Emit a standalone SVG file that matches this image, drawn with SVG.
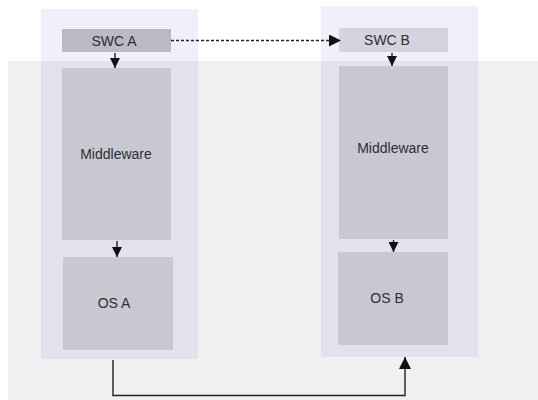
<svg xmlns="http://www.w3.org/2000/svg" width="538" height="400" viewBox="0 0 538 400">
<defs>
<style>
.lbl{font-family:"Liberation Sans",Arial,sans-serif;font-size:14px;fill:#2e2e2e;text-anchor:middle;dominant-baseline:central}
.box{fill:#c8c8d2}
.pu{fill:#f0f0fb}
.pl{fill:#e2e2ee}
.ln{stroke:#222;stroke-width:1.4;fill:none}
</style>
<marker id="ah" viewBox="0 0 10 10" refX="10" refY="5" markerWidth="10" markerHeight="10" markerUnits="userSpaceOnUse" orient="auto">
<path d="M0,0 L10,5 L0,10 Z" fill="#111"/>
</marker>
<marker id="ahb" viewBox="0 0 10 10" refX="10" refY="5" markerWidth="12" markerHeight="12" markerUnits="userSpaceOnUse" orient="auto">
<path d="M0,0 L10,5 L0,10 Z" fill="#111"/>
</marker>
</defs>
<rect width="538" height="400" fill="#ffffff"/>
<rect x="8" y="61" width="530" height="339" fill="#f0f0f0"/>
<g id="panelA">
<rect class="pu" x="41" y="9" width="157" height="52"/>
<rect class="pl" x="41" y="61" width="157" height="298"/>
</g>
<g id="panelB">
<rect class="pu" x="321" y="6" width="157" height="55"/>
<rect class="pl" x="321" y="61" width="157" height="296"/>
</g>
<g id="swcA"><rect x="62" y="29" width="109" height="23" fill="#babac4"/><text class="lbl" x="114" y="41">SWC A</text></g>
<g id="mwA"><rect class="box" x="62" y="68" width="109" height="172"/><text class="lbl" x="116" y="154">Middleware</text></g>
<g id="osA"><rect class="box" x="63" y="257" width="110" height="93"/><text class="lbl" x="114" y="303">OS A</text></g>
<g id="swcB"><rect x="339" y="28" width="109" height="24" fill="#d4d4de"/><text class="lbl" x="387" y="40">SWC B</text></g>
<g id="mwB"><rect class="box" x="339" y="66" width="109" height="173"/><text class="lbl" x="393" y="148">Middleware</text></g>
<g id="osB"><rect class="box" x="338" y="252" width="110" height="93"/><text class="lbl" x="387" y="298">OS B</text></g>
<g id="connectors">
<line class="ln" x1="171" y1="40.5" x2="341" y2="40.5" stroke-dasharray="3,2" marker-end="url(#ahb)"/>
<line class="ln" x1="115" y1="53" x2="115" y2="68" marker-end="url(#ah)"/>
<line class="ln" x1="117" y1="241" x2="117" y2="257" marker-end="url(#ah)"/>
<line class="ln" x1="392" y1="53" x2="392" y2="66" marker-end="url(#ah)"/>
<line class="ln" x1="393.5" y1="240" x2="393.5" y2="252" marker-end="url(#ah)"/>
<polyline class="ln" points="113,360 113,395.5 405,395.5 405,357" marker-end="url(#ahb)"/>
</g>
</svg>
